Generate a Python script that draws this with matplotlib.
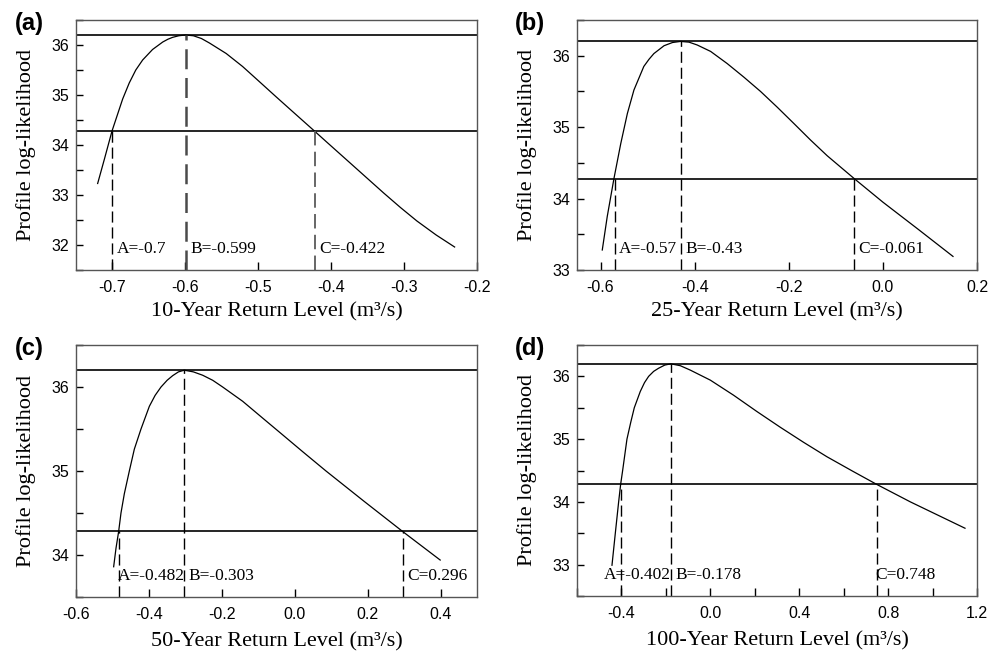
import numpy as np
import matplotlib
matplotlib.use("Agg")
from matplotlib import pyplot as plt
from matplotlib.ticker import FormatStrFormatter, MultipleLocator

plt.rcParams['axes.unicode_minus'] = False

# values
panel_tags = ["(a)", "(b)", "(c)", "(d)"]
return_periods = [10, 25, 50, 100]
max_loglik = 36.2
ci_loglik = 34.28

a_x = [-0.7203, -0.711, -0.7006, -0.686, -0.677, -0.668, -0.6586, -0.645, -0.631, -0.624, -0.6175, -0.609, -0.600,
       -0.589, -0.578, -0.567, -0.544, -0.5215, -0.4987, -0.476, -0.453, -0.423, -0.407, -0.374, -0.351,
       -0.328, -0.305, -0.2824, -0.256, -0.2307]
a_y = [33.23, 33.72, 34.28, 34.92, 35.24, 35.50, 35.70, 35.91, 36.06, 36.115, 36.153, 36.185, 36.2,
       36.185, 36.13, 36.04, 35.83, 35.57, 35.27, 34.97, 34.67, 34.28, 34.07, 33.64, 33.34,
       33.04, 32.75, 32.48, 32.20, 31.96]

b_x = [-0.5963, -0.5857, -0.5715, -0.557, -0.543, -0.529, -0.508, -0.497, -0.4866, -0.465, -0.447, -0.43,
       -0.412, -0.3945, -0.366, -0.3308, -0.2954, -0.260, -0.2246, -0.189, -0.1538, -0.1184, -0.061, 0.0, 0.075, 0.149]
b_y = [33.28, 33.75, 34.28, 34.77, 35.19, 35.52, 35.85, 35.95, 36.03, 36.14, 36.185, 36.2,
       36.19, 36.15, 36.06, 35.89, 35.70, 35.50, 35.28, 35.05, 34.82, 34.60, 34.28, 33.95, 33.57, 33.19]

c_x = [-0.4967, -0.4903, -0.483, -0.4766, -0.4674, -0.4537, -0.44, -0.4217, -0.3988, -0.383, -0.3668, -0.35,
       -0.3348, -0.319, -0.303, -0.278, -0.2525, -0.225, -0.1977, -0.1428, -0.088, -0.033, 0.0218, 0.0858,
       0.19, 0.296, 0.399]
c_y = [33.86, 34.08, 34.28, 34.50, 34.73, 35.0, 35.26, 35.5, 35.77, 35.9, 36.0, 36.08,
       36.135, 36.18, 36.2, 36.18, 36.14, 36.08, 36.0, 35.83, 35.63, 35.43, 35.23, 35.0,
       34.64, 34.28, 33.94]

d_x = [-0.4426, -0.4276, -0.4126, -0.4036, -0.3946, -0.3752, -0.358, -0.3422, -0.3152, -0.2963, -0.2777,
       -0.255, -0.2327, -0.205, -0.178, -0.135, -0.0903, 0.0, 0.1045, 0.2095, 0.3144, 0.4193, 0.5243, 0.64,
       0.748, 0.9, 1.146]
d_y = [32.99, 33.50, 34.0, 34.28, 34.50, 35.0, 35.27, 35.5, 35.76, 35.9, 36.0,
       36.08, 36.13, 36.18, 36.2, 36.17, 36.10, 35.94, 35.70, 35.44, 35.19, 34.95, 34.72, 34.49,
       34.28, 34.0, 33.58]

# A = lower bound, B = estimate, C = upper bound
A_vals = [-0.7, -0.57, -0.482, -0.402]
B_vals = [-0.599, -0.43, -0.303, -0.178]
C_vals = [-0.422, -0.061, 0.296, 0.748]

a_xticks = [-0.7, -0.6, -0.5, -0.4, -0.3, -0.2]
b_xticks = [-0.6, -0.4, -0.2, 0.0, 0.2]
c_xticks = [-0.6, -0.4, -0.2, 0.0, 0.2, 0.4]
d_xticks = [-0.4, 0.0, 0.4, 0.8, 1.2]

curves_x = [a_x, b_x, c_x, d_x]
curves_y = [a_y, b_y, c_y, d_y]
xticks = [a_xticks, b_xticks, c_xticks, d_xticks]

W, H = 1003, 655
# axes boxes in pixels: left, top, right, bottom
boxes = [(76, 20, 477, 270), (577, 20, 977, 270), (76, 345, 477, 597), (577, 345, 977, 596)]
xlims = [(-0.75, -0.2), (-0.65, 0.2), (-0.6, 0.5), (-0.6, 1.2)]
ylims = [(31.5, 36.5), (33, 36.5), (33.5, 36.5), (32.5, 36.5)]
xminor = [None, None, None, 0.2]
# text offsets (pixels) from the dashed line, picked by eye
txt_off = [[4.5, 4.5, 4.5], [4.5, 4.5, 4.5], [-1, 4.5, 4.5], [-17, 5, -1]]

serif = "Liberation Serif"
sans = "Liberation Sans"
px = 0.72  # points per pixel at dpi 100

fig = plt.figure(figsize=(W / 100, H / 100), dpi=100)

for i in range(4):
    l, t, r, b = boxes[i]
    ax = fig.add_axes([l / W, 1 - b / H, (r - l) / W, (b - t) / H])
    ax.plot(curves_x[i], curves_y[i], color="black", lw=0.9)
    ax.axhline(max_loglik, color="black", lw=1.2)
    ax.axhline(ci_loglik, color="black", lw=1.2)

    y0 = ylims[i][0]
    if i == 0:
        dash_col = ["black", "#4a4a4a", "#5a5a5a"]
        dash_lw = [1.0, 1.8, 1.3]
    else:
        dash_col = ["black", "black", "black"]
        dash_lw = [1.0, 1.0, 1.0]
    tops = [ci_loglik, max_loglik, ci_loglik]
    vals = [A_vals[i], B_vals[i], C_vals[i]]
    for k, name in enumerate(["A", "B", "C"]):
        ax.plot([vals[k], vals[k]], [y0, tops[k]], color=dash_col[k], lw=dash_lw[k],
                dashes=(8, 3.5))
        ax.annotate(f"{name}={vals[k]:g}", xy=(vals[k], 0), xycoords=("data", "axes fraction"),
                    xytext=(txt_off[i][k] * px, 21 * px), textcoords="offset points",
                    ha="left", va="center", fontsize=12.5, family=serif)

    ax.set_xlim(*xlims[i])
    ax.set_ylim(*ylims[i])
    ax.set_xticks(xticks[i])
    ax.xaxis.set_major_formatter(FormatStrFormatter("%.1f"))
    ax.yaxis.set_major_locator(MultipleLocator(1))
    ax.yaxis.set_minor_locator(MultipleLocator(0.5))
    ax.yaxis.set_major_formatter(FormatStrFormatter("%d"))
    if xminor[i]:
        ax.xaxis.set_minor_locator(MultipleLocator(xminor[i]))
    ax.tick_params(which="both", direction="in", length=5, width=1.0, top=False, right=False)
    ax.tick_params(axis="x", which="both", length=6, pad=7)
    ax.tick_params(axis="y", which="both", pad=5)
    for lab in ax.get_xticklabels() + ax.get_yticklabels():
        lab.set_family(sans)
        lab.set_fontsize(11.5)
    for sp in ax.spines.values():
        sp.set_color("#555555")
        sp.set_linewidth(1.0)

    ax.set_xlabel(f"{return_periods[i]}-Year Return Level (m³/s)", family=serif, fontsize=16)
    ax.set_ylabel("Profile log-likelihood", family=serif, fontsize=16)
    ax.xaxis.set_label_coords(0.5, -(42 if i < 2 else 45) / (b - t))
    ax.xaxis.label.set_va("center")
    ax.yaxis.set_label_coords(-50 / (r - l), 0.5)
    ax.yaxis.label.set_va("center")

    lx = 15 if l < 300 else 515
    ly = 12 if t < 100 else 337
    fig.text(lx / W, 1 - ly / H, panel_tags[i], family=sans, fontweight="bold",
             fontsize=17, ha="left", va="top")

fig.savefig("out.png", dpi=100)
